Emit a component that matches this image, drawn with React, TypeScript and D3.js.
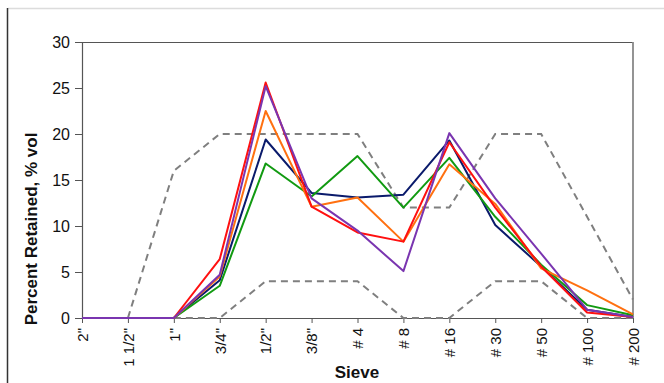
import { useEffect, useRef } from 'react';
import * as d3 from 'd3';

// Sieve sizes along the x axis
const sieves = ['2"', '1 1/2"', '1"', '3/4"', '1/2"', '3/8"', '# 4', '# 8', '# 16', '# 30', '# 50', '# 100', '# 200'];

// Percent retained per sample
const navyValues = [0, 0, 0, 4.1, 19.4, 13.6, 13.1, 13.4, 19.3, 10.1, 5.6, 0.9, 0.1];
const greenValues = [0, 0, 0, 3.5, 16.8, 13.2, 17.6, 12.0, 17.4, 11.0, 5.8, 1.4, 0.3];
const orangeValues = [0, 0, 0, 4.5, 22.5, 12.1, 13.1, 8.3, 16.7, 12.4, 5.4, 3.0, 0.4];
const redValues = [0, 0, 0, 6.4, 25.6, 12.1, 9.3, 8.3, 19.1, 12.0, 5.6, 0.6, 0.1];
const purpleValues = [0, 0, 0, 4.7, 25.2, 13.0, 9.5, 5.1, 20.1, 13.0, 7.0, 0.9, 0.1];

// Specification band (dashed)
const upperLimit = [null, 0, 16, 20, 20, 20, 20, 12, 12, 20, 20, 11, 2];
const lowerLimit = [null, null, 0, 0, 4, 4, 4, 0, 0, 4, 4, 0, 0];

const yTicks = [0, 5, 10, 15, 20, 25, 30];

const series = [
  { name: 'navy', values: navyValues, color: '#0a1a6b' },
  { name: 'green', values: greenValues, color: '#119a11' },
  { name: 'orange', values: orangeValues, color: '#ff7010' },
  { name: 'red', values: redValues, color: '#ff1010' },
  { name: 'purple', values: purpleValues, color: '#7a35b0' },
];

const width = 664;
const height = 383;
const font = 'Arial, "Liberation Sans", sans-serif';

export default function App() {
  const svgRef = useRef<SVGSVGElement>(null);

  useEffect(() => {
    if (!svgRef.current) return;
    const svg = d3.select(svgRef.current);
    svg.selectAll('*').remove();

    const x = d3.scalePoint<string>().domain(sieves).range([82, 633]);
    const y = d3.scaleLinear().domain([0, 30]).range([318, 42]);

    svg.append('rect').attr('width', width).attr('height', height).attr('fill', 'white');

    // outer frame
    svg.append('line')
      .attr('x1', 8).attr('x2', width).attr('y1', 8.5).attr('y2', 8.5)
      .attr('stroke', '#dcdcdc').attr('stroke-width', 1.5);
    svg.append('line')
      .attr('x1', 7.5).attr('x2', 7.5).attr('y1', 8).attr('y2', height)
      .attr('stroke', '#333').attr('stroke-width', 1.5);

    // plot border (top + right)
    svg.append('line')
      .attr('x1', 82).attr('x2', 633).attr('y1', 42.5).attr('y2', 42.5)
      .attr('stroke', '#555').attr('stroke-width', 1.2);
    svg.append('line')
      .attr('x1', 633).attr('x2', 633).attr('y1', 42).attr('y2', 318)
      .attr('stroke', '#888').attr('stroke-width', 1.8);

    // y axis
    const yAxis = svg.append('g')
      .attr('transform', 'translate(82,0)')
      .call(d3.axisLeft(y).tickValues(yTicks).tickSize(7).tickPadding(5).tickFormat(d3.format('d')));
    yAxis.select('.domain').attr('stroke', '#555').attr('stroke-width', 1.2);
    yAxis.selectAll('.tick line').attr('stroke', '#555');
    yAxis.selectAll('.tick text')
      .attr('fill', '#111')
      .style('font-family', font)
      .style('font-size', '16px');

    // x axis
    const xAxis = svg.append('g')
      .attr('transform', 'translate(0,318)')
      .call(d3.axisBottom(x).tickSize(5).tickSizeOuter(0));
    xAxis.select('.domain').attr('stroke', '#555').attr('stroke-width', 1.2);
    xAxis.selectAll('.tick line').attr('stroke', '#555');
    xAxis.selectAll('.tick text')
      .attr('fill', '#111')
      .attr('transform', 'rotate(-90)')
      .attr('text-anchor', 'end')
      .attr('x', -10)
      .attr('y', 0)
      .attr('dy', '0.35em')
      .style('font-family', font)
      .style('font-size', '15px');

    const line = d3.line<number | null>()
      .defined(d => d !== null)
      .x((_d, i) => x(sieves[i]) as number)
      .y(d => y(d as number));

    // spec limits
    [upperLimit, lowerLimit].forEach(limit => {
      svg.append('path')
        .attr('d', line(limit))
        .attr('fill', 'none')
        .attr('stroke', '#7f7f7f')
        .attr('stroke-width', 2)
        .attr('stroke-dasharray', '7,5');
    });

    // sample curves
    series.forEach(s => {
      svg.append('path')
        .attr('d', line(s.values))
        .attr('fill', 'none')
        .attr('stroke', s.color)
        .attr('stroke-width', 2)
        .attr('stroke-linejoin', 'round');
    });

    // axis titles
    svg.append('text')
      .attr('transform', 'translate(37,229) rotate(-90)')
      .attr('text-anchor', 'middle')
      .style('font-family', font)
      .style('font-size', '17px')
      .style('font-weight', 'bold')
      .attr('fill', '#111')
      .text('Percent Retained, % vol');

    svg.append('text')
      .attr('x', 357)
      .attr('y', 378)
      .attr('text-anchor', 'middle')
      .style('font-family', font)
      .style('font-size', '17px')
      .style('font-weight', 'bold')
      .attr('fill', '#111')
      .text('Sieve');
  }, []);

  return (
    <svg
      ref={svgRef}
      width={width}
      height={height}
      style={{ position: 'absolute', left: 0, top: 0 }}
    />
  );
}
